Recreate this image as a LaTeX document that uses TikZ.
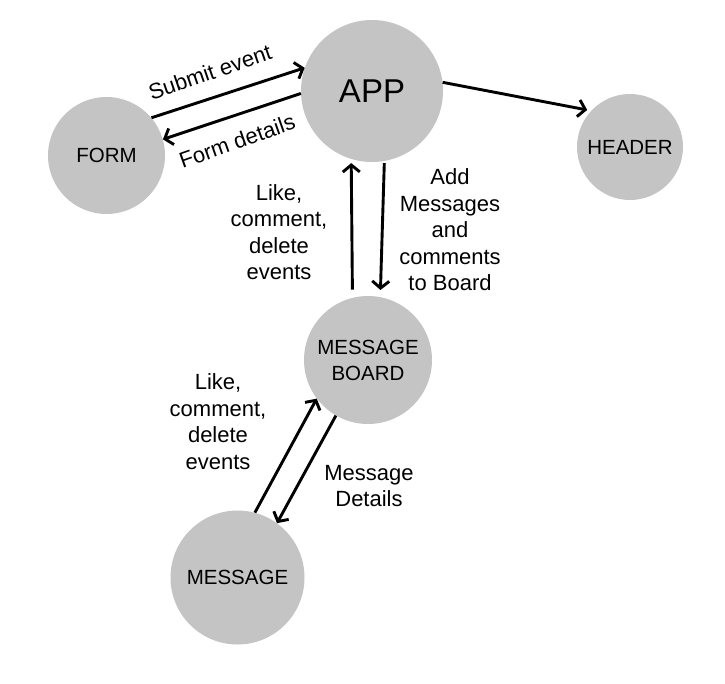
\documentclass[tikz,border=0pt]{standalone}
\usepackage{fontspec}
\setmainfont{Liberation Sans}
\usepackage{tikz}
\usetikzlibrary{arrows.meta,calc,positioning}
\definecolor{bubblegray}{RGB}{196,196,196}

\begin{document}
\begin{tikzpicture}[x=1pt,y=-1pt,
    comp/.style={circle, fill=bubblegray, inner sep=0pt, align=center, font=\fontsize{20.5}{26}\selectfont},
    lbl/.style={align=center, inner sep=1pt, font=\fontsize{22}{26.5}\selectfont},
    flow/.style={line width=2.9pt, -{Straight Barb[length=7pt,width=17pt]}}]
        \useasboundingbox (0,0) rectangle (725,683);

        % components
        \node[comp, minimum size=142pt, font=\fontsize{33}{40}\selectfont] (app) at (372,91) {APP};
        \node[comp, minimum size=117pt] (form) at (106.5,155.5) {FORM};
        \node[comp, minimum size=106pt] (header) at (630,147) {HEADER};
        \node[comp, minimum size=128pt] (board) at (368,360) {MESSAGE\\BOARD};
        \node[comp, minimum size=134pt] (message) at (237.5,577.5) {MESSAGE};

        % form <-> app
        \draw[flow] (form.40) -- (app.161);
        \node[lbl, rotate=19] (submitlbl) at (210,72) {Submit event};
        \draw[flow] (app.182) -- (form.16);
        \node[lbl, rotate=19.5] (formlbl) at (237,141) {Form details};

        % app -> header
        \draw[flow, shorten >=4pt] (app.7) -- (header.137);

        % board <-> app
        \draw[flow, shorten <=8pt, shorten >=4pt] (board.104) -- (app.253);
        \node[lbl] (boardevents) at (279,232) {Like,\\comment,\\delete\\events};
        \draw[flow, shorten <=2pt, shorten >=7pt] (app.280) -- (board.79);
        \node[lbl] (addlbl) at (450,230) {Add\\Messages\\and\\comments\\to Board};

        % message <-> board
        \draw[flow] (message.75) -- (board.217);
        \node[lbl] (msgevents) at (218,421.5) {Like,\\comment,\\delete\\events};
        \draw[flow] (board.240) -- (message.54);
        \node[lbl] (detailslbl) at (369,486) {Message\\Details};

      \end{tikzpicture}
\end{document}
